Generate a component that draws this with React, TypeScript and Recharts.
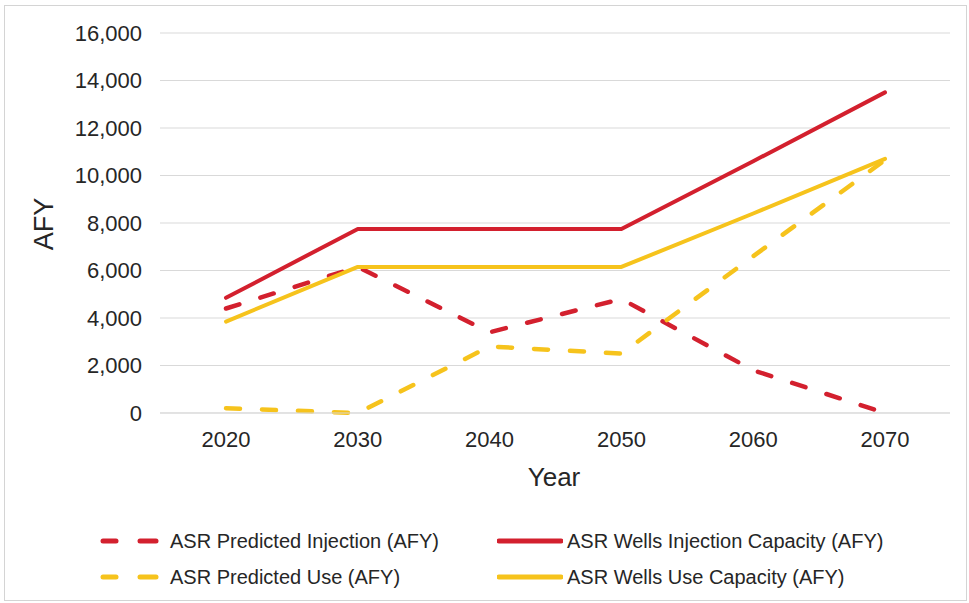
import React from 'react';
import { LineChart, Line, XAxis, YAxis, CartesianGrid, Label } from 'recharts';

// Categories and series (acre-feet per year)
const years = ['2020', '2030', '2040', '2050', '2060', '2070'];
const predictedInjection = [4400, 6150, 3400, 4800, 1800, 0];
const predictedUse = [200, 0, 2800, 2500, 6600, 10650];
const wellsInjectionCapacity = [4850, 7750, 7750, 7750, 10600, 13500];
const wellsUseCapacity = [3850, 6150, 6150, 6150, 8400, 10700];
const yTicks = [0, 2000, 4000, 6000, 8000, 10000, 12000, 14000, 16000];

const RED = '#D3202E';
const GOLD = '#F6C31C';
const FONT = '"Liberation Sans", Arial, Helvetica, sans-serif';
const TEXT = '#262626';

const data = years.map((year, i) => ({
  year,
  predictedInjection: predictedInjection[i],
  predictedUse: predictedUse[i],
  wellsInjectionCapacity: wellsInjectionCapacity[i],
  wellsUseCapacity: wellsUseCapacity[i],
}));

type SeriesDef = { key: string; name: string; color: string; dashed: boolean };

const series: SeriesDef[] = [
  { key: 'predictedInjection', name: 'ASR Predicted Injection (AFY)', color: RED, dashed: true },
  { key: 'predictedUse', name: 'ASR Predicted Use (AFY)', color: GOLD, dashed: true },
  { key: 'wellsInjectionCapacity', name: 'ASR Wells Injection Capacity (AFY)', color: RED, dashed: false },
  { key: 'wellsUseCapacity', name: 'ASR Wells Use Capacity (AFY)', color: GOLD, dashed: false },
];

// legend grid: two columns, two rows
const legendLayout: { key: string; left: number; top: number }[] = [
  { key: 'predictedInjection', left: 100, top: 541 },
  { key: 'wellsInjectionCapacity', left: 497, top: 541 },
  { key: 'predictedUse', left: 100, top: 577 },
  { key: 'wellsUseCapacity', left: 497, top: 577 },
];

const fmt = (v: number) => v.toLocaleString('en-US');

function LegendIcon({ s }: { s: SeriesDef }) {
  if (s.dashed) {
    return (
      <svg width={60} height={10} style={{ display: 'block' }}>
        <line x1={3} y1={5} x2={16} y2={5} stroke={s.color} strokeWidth={5} strokeLinecap="round" />
        <line x1={40} y1={5} x2={56} y2={5} stroke={s.color} strokeWidth={5} strokeLinecap="round" />
      </svg>
    );
  }
  return (
    <svg width={66} height={10} style={{ display: 'block' }}>
      <line x1={2} y1={5} x2={64} y2={5} stroke={s.color} strokeWidth={5} strokeLinecap="round" />
    </svg>
  );
}

function ChartLegend() {
  return (
    <>
      {legendLayout.map((item) => {
        const s = series.find((d) => d.key === item.key)!;
        return (
          <div
            key={item.key}
            style={{
              position: 'absolute',
              left: item.left,
              top: item.top - 12,
              height: 24,
              display: 'flex',
              alignItems: 'center',
              gap: s.dashed ? 10 : 4,
              fontFamily: FONT,
              fontSize: 20,
              color: TEXT,
              whiteSpace: 'nowrap',
            }}
          >
            <LegendIcon s={s} />
            <span>{s.name}</span>
          </div>
        );
      })}
    </>
  );
}

export default function App() {
  return (
    <div
      style={{
        position: 'absolute',
        left: 0,
        top: 0,
        width: 969,
        height: 603,
        background: '#fff',
        overflow: 'hidden',
      }}
    >
      <div
        style={{
          position: 'absolute',
          left: 4,
          top: 5,
          width: 961,
          height: 594,
          border: '1px solid #d4d4d4',
        }}
      />
      <div style={{ position: 'absolute', left: 0, top: 0 }}>
        <LineChart
          width={969}
          height={603}
          data={data}
          margin={{ top: 33, right: 19, left: 0, bottom: 0 }}
        >
          <CartesianGrid vertical={false} stroke="#d9d9d9" strokeWidth={1} />
          <XAxis
            dataKey="year"
            height={190}
            padding={{ left: 66, right: 65 }}
            axisLine={{ stroke: '#d9d9d9' }}
            tickLine={false}
            tickSize={0}
            tickMargin={18}
            tick={{ fontFamily: FONT, fontSize: 22, fill: TEXT }}
          >
            <Label
              content={() => (
                <text
                  x={554}
                  y={477}
                  textAnchor="middle"
                  dominantBaseline="central"
                  fontFamily={FONT}
                  fontSize={26}
                  fill={TEXT}
                >
                  Year
                </text>
              )}
            />
          </XAxis>
          <YAxis
            width={160}
            domain={[0, 16000]}
            ticks={yTicks}
            interval={0}
            axisLine={false}
            tickLine={false}
            tickSize={0}
            tickMargin={18}
            tickFormatter={fmt}
            tick={{ fontFamily: FONT, fontSize: 22, fill: TEXT }}
          >
            <Label
              content={() => (
                <text
                  x={44}
                  y={224}
                  textAnchor="middle"
                  dominantBaseline="central"
                  transform="rotate(-90 44 224)"
                  fontFamily={FONT}
                  fontSize={27}
                  fill={TEXT}
                >
                  AFY
                </text>
              )}
            />
          </YAxis>
          {series.map((s) => (
            <Line
              key={s.key}
              type="linear"
              dataKey={s.key}
              name={s.name}
              stroke={s.color}
              strokeWidth={s.dashed ? 4.5 : 4}
              strokeDasharray={s.dashed ? '14 22' : undefined}
              strokeLinecap="round"
              strokeLinejoin="round"
              dot={false}
              activeDot={false}
              isAnimationActive={false}
            />
          ))}
        </LineChart>
      </div>
      <ChartLegend />
    </div>
  );
}
